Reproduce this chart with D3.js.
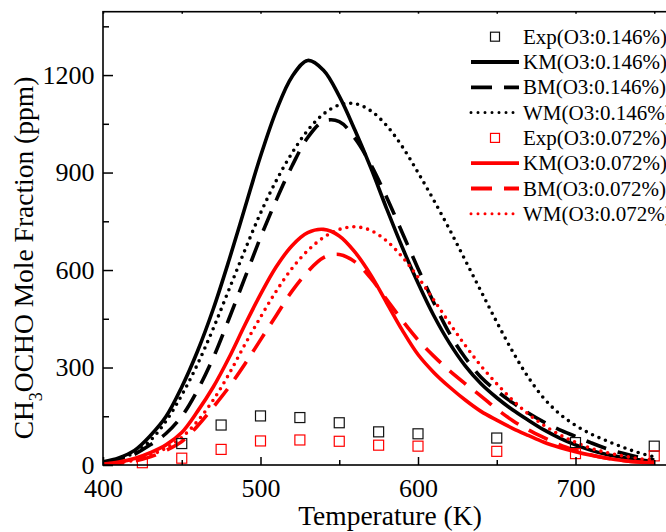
<!DOCTYPE html>
<html>
<head>
<meta charset="utf-8">
<script src="https://d3js.org/d3.v7.min.js"></script>
<style>
  body { margin: 0; background: #fff; }
  svg { display: block; font-family: "Liberation Serif", "Times New Roman", serif; }
</style>
</head>
<body>
<div id="chart"></div>
<script>
// temperature grid of the model curves (K)
const temps = [400, 410, 420, 430, 440, 450, 460, 470, 480, 490, 500, 510,
  520, 530, 540, 550, 560, 570, 580, 590, 600, 610, 620, 630, 640, 650, 660,
  670, 680, 690, 700, 710, 720, 730, 740, 750];

// O3 0.146%
const kmHigh = [10, 22, 45, 90, 149, 240, 350, 480, 630, 790, 950, 1090,
  1195, 1245, 1215, 1135, 1030, 915, 790, 670, 560, 460, 375, 305, 250, 207,
  170, 138, 108, 83, 62, 45, 32, 23, 16, 11];
const bmHigh = [5, 14, 33, 62, 97, 150, 230, 330, 450, 575, 700, 815,
  920, 1008, 1058, 1057, 1005, 925, 825, 715, 605, 500, 405, 330, 270, 228,
  192, 160, 132, 108, 88, 68, 50, 36, 24, 15];
const wmHigh = [8, 18, 38, 75, 135, 215, 310, 420, 540, 660, 775, 875,
  960, 1030, 1080, 1108, 1112, 1090, 1045, 980, 900, 815, 725, 630, 535, 440,
  350, 270, 205, 157, 122, 95, 74, 55, 38, 25];

// O3 0.072%
const kmLow = [3, 9, 20, 38, 62, 100, 165, 240, 330, 430, 525, 610,
  675, 715, 725, 705, 655, 585, 500, 415, 340, 285, 240, 200, 165, 138,
  113, 91, 70, 54, 41, 30, 21, 14, 9, 6];
const bmLow = [2, 5, 12, 25, 45, 72, 120, 178, 240, 310, 385, 460,
  535, 595, 638, 648, 625, 575, 510, 445, 385, 335, 290, 250, 212, 172,
  137, 108, 84, 62, 45, 31, 21, 14, 9, 6];
const wmLow = [3, 7, 15, 30, 52, 85, 135, 200, 280, 370, 455, 535,
  605, 660, 700, 725, 733, 722, 690, 640, 578, 508, 437, 368, 305, 250,
  200, 157, 122, 93, 70, 51, 38, 28, 20, 15];

// experiments
const expTempsHigh = [450, 475, 500, 525, 550, 575, 600, 650, 700, 750];
const expHigh = [66, 123, 151, 146, 130, 102, 96, 83, 69, 58];
const expTempsLow = [425, 450, 475, 500, 525, 550, 575, 600, 650, 700, 750];
const expLow = [7, 21, 48, 74, 77, 73, 61, 58, 42, 35, 28];

const xTicks = [400, 500, 600, 700];
const xMinorTicks = [450, 550, 650, 750];
const yTicks = [0, 300, 600, 900, 1200];
const yMinorTicks = [150, 450, 750, 1050, 1350];

const legendLabels = ["Exp(O3:0.146%)", "KM(O3:0.146%)", "BM(O3:0.146%)", "WM(O3:0.146%)",
  "Exp(O3:0.072%)", "KM(O3:0.072%)", "BM(O3:0.072%)", "WM(O3:0.072%)"];

const W = 666, H = 532;
const svg = d3.select("#chart").append("svg")
  .attr("width", W).attr("height", H);

const x = d3.scaleLinear().domain([400, 760]).range([103, 670]);
const y = d3.scaleLinear().domain([0, 1395]).range([465, 11.7]);

const RED = "#ff0000";
const dashes = { solid: null, dash: "21,12", dot: "0,7" };

const series = [
  { key: "exp", temps: expTempsHigh, values: expHigh, color: "#111" },
  { key: "solid", values: kmHigh, color: "#000" },
  { key: "dash", values: bmHigh, color: "#000" },
  { key: "dot", values: wmHigh, color: "#000" },
  { key: "exp", temps: expTempsLow, values: expLow, color: RED },
  { key: "solid", values: kmLow, color: RED },
  { key: "dash", values: bmLow, color: RED },
  { key: "dot", values: wmLow, color: RED },
];

svg.append("clipPath").attr("id", "plot")
  .append("rect")
  .attr("x", x(400)).attr("y", y(1395))
  .attr("width", x(760) - x(400)).attr("height", y(0) - y(1395));

// curves
const line = d3.line()
  .x((d, i) => x(temps[i]))
  .y((d) => y(d))
  .curve(d3.curveCatmullRom.alpha(0.5));

const curveG = svg.append("g").attr("clip-path", "url(#plot)");
series.filter((s) => s.key !== "exp").forEach((s) => {
  curveG.append("path")
    .attr("d", line(s.values))
    .attr("fill", "none")
    .attr("stroke", s.color)
    .attr("stroke-width", 3.6)
    .attr("stroke-linecap", s.key === "dot" ? "round" : "butt")
    .attr("stroke-dasharray", dashes[s.key]);
});

// experimental squares
series.filter((s) => s.key === "exp").forEach((s) => {
  svg.append("g")
    .selectAll("rect")
    .data(s.values)
    .enter()
    .append("rect")
    .attr("x", (d, i) => x(s.temps[i]) - 5)
    .attr("y", (d) => y(d) - 5)
    .attr("width", 10).attr("height", 10)
    .attr("fill", "none")
    .attr("stroke", s.color)
    .attr("stroke-width", 1.2);
});

// frame
svg.append("rect")
  .attr("x", x(400)).attr("y", y(1395))
  .attr("width", x(760) - x(400)).attr("height", y(0) - y(1395))
  .attr("fill", "none").attr("stroke", "#000").attr("stroke-width", 1.6);

function styleAxis(g) {
  g.select(".domain").remove();
  g.selectAll("line").attr("stroke", "#000").attr("stroke-width", 1.5);
  g.selectAll("text")
    .attr("fill", "#000")
    .style("font-family", '"Liberation Serif", "Times New Roman", serif')
    .style("font-size", "26px");
}

svg.append("g")
  .attr("transform", `translate(0,${y(0)})`)
  .call(d3.axisBottom(x).tickValues(xTicks).tickFormat(d3.format("d"))
    .tickSizeInner(-8).tickSizeOuter(0).tickPadding(13.5))
  .call(styleAxis);
svg.append("g")
  .attr("transform", `translate(0,${y(0)})`)
  .call(d3.axisBottom(x).tickValues(xMinorTicks).tickSizeInner(-5).tickSizeOuter(0).tickFormat(""))
  .call(styleAxis);
svg.append("g")
  .attr("transform", `translate(0,${y(1395)})`)
  .call(d3.axisTop(x).tickValues(xTicks.concat(xMinorTicks)).tickSizeInner(-2).tickSizeOuter(0).tickFormat(""))
  .call(styleAxis);
svg.append("g")
  .attr("transform", `translate(${x(400)},0)`)
  .call(d3.axisLeft(y).tickValues(yTicks).tickFormat(d3.format("d"))
    .tickSizeInner(-10).tickSizeOuter(0).tickPadding(8.5))
  .call(styleAxis);
svg.append("g")
  .attr("transform", `translate(${x(400)},0)`)
  .call(d3.axisLeft(y).tickValues(yMinorTicks).tickSizeInner(-6).tickSizeOuter(0).tickFormat(""))
  .call(styleAxis);

// axis titles
svg.append("text")
  .attr("x", 390).attr("y", 525)
  .attr("text-anchor", "middle")
  .style("font-size", "27.5px")
  .text("Temperature (K)");

const yt = svg.append("text")
  .attr("transform", "translate(33,258) rotate(-90)")
  .attr("text-anchor", "middle")
  .style("font-size", "27.5px");
yt.append("tspan").text("CH");
yt.append("tspan").attr("dy", 9).style("font-size", "18px").text("3");
yt.append("tspan").attr("dy", -9).text("OCHO Mole Fraction (ppm)");

// legend
const legend = svg.append("g");
series.forEach((s, i) => {
  const ly = 36.7 + i * 25.3;
  if (s.key === "exp") {
    legend.append("rect")
      .attr("x", 490.5).attr("y", ly - 4.5)
      .attr("width", 9).attr("height", 9)
      .attr("fill", "none").attr("stroke", s.color).attr("stroke-width", 1.2);
  } else {
    legend.append("line")
      .attr("x1", 471).attr("x2", 519)
      .attr("y1", ly).attr("y2", ly)
      .attr("stroke", s.color)
      .attr("stroke-width", s.key === "dot" ? 3 : 3.8)
      .attr("stroke-linecap", s.key === "dot" ? "round" : "butt")
      .attr("stroke-dasharray", dashes[s.key]);
  }
  legend.append("text")
    .attr("x", 523).attr("y", ly)
    .attr("dominant-baseline", "central")
    .style("font-size", "21px")
    .text(legendLabels[i]);
});
</script>
</body>
</html>
